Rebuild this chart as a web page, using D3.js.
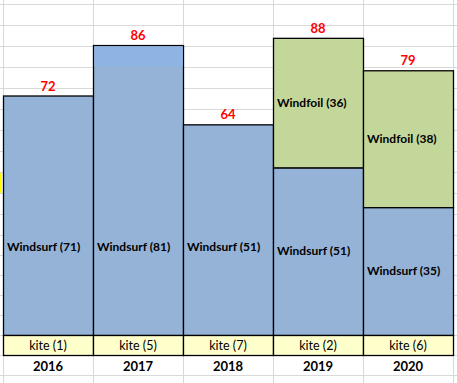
<!DOCTYPE html>
<html><head><meta charset="utf-8">
<script src="https://cdn.jsdelivr.net/npm/d3@7"></script>
<style>html,body{margin:0;padding:0;background:#fff;}svg{display:block;}</style>
</head><body>
<script>
// ---- data ----
const years = ["2016", "2017", "2018", "2019", "2020"];
const totals = [72, 86, 64, 88, 79];
const windsurf = [71, 81, 51, 51, 35];
const windfoil = [0, 0, 0, 36, 38];
const kite = [1, 5, 7, 2, 6];

const W = 457, H = 383;
const svg = d3.select("body").append("svg").attr("width", W).attr("height", H);
const font = "Lato, 'Open Sans', sans-serif";

const x = d3.scaleBand().domain(years).range([3, 453]).paddingInner(0).paddingOuter(0);
const stripTop = 335, stripBottom = 355, yearRowBottom = 376;
const y = d3.scaleLinear().domain([0, 98.5]).range([stripBottom, 0]);

// ---- spreadsheet grid background ----
const grid = svg.append("g").attr("stroke", "#d9d9d9").attr("stroke-width", 1);
const rowLines = [];
for (let v = 4; v <= 235; v += 21) rowLines.push(v);
for (let v = 255; v <= 383; v += 20) rowLines.push(v);
grid.selectAll("line.h").data(rowLines).join("line")
  .attr("x1", 0).attr("x2", W).attr("y1", d => d + 0.5).attr("y2", d => d + 0.5);
const colLines = years.map(d => x(d)).concat([x.range()[1]]);
grid.selectAll("line.v").data(colLines).join("line")
  .attr("y1", 0).attr("y2", H).attr("x1", d => d + 0.5).attr("x2", d => d + 0.5);

// selected-cell marker at the left edge
svg.append("rect").attr("x", 0).attr("y", 173).attr("width", 2).attr("height", 20).attr("fill", "#ffff00");

const rows = years.map((yr, i) => ({yr, total: totals[i], ws: windsurf[i], wf: windfoil[i], kite: kite[i]}));
const bw = x.bandwidth();

const g = svg.append("g");
rows.forEach((r, i) => {
  const x0 = x(r.yr);
  const top = y(r.total);
  const wfBottom = r.wf > 0 ? top + (y(0) - y(r.wf)) : top;
  // windfoil
  if (r.wf > 0) {
    g.append("rect").attr("x", x0 + 0.5).attr("y", top + 0.5).attr("width", bw).attr("height", wfBottom - top)
      .attr("fill", "#c4d79b").attr("stroke", "#000").attr("stroke-width", 1.3);
  }
  // windsurf
  g.append("rect").attr("x", x0 + 0.5).attr("y", wfBottom + 0.5).attr("width", bw).attr("height", stripTop - wfBottom)
    .attr("fill", "#95b3d7").attr("stroke", "#000").attr("stroke-width", 1.3);
  if (r.yr === "2017") {
    g.append("rect").attr("x", x0 + 1.2).attr("y", top + 1.2).attr("width", bw - 1.4).attr("height", 20)
      .attr("fill", "#8db4e2");
  }
  // kite strip
  g.append("rect").attr("x", x0 + 0.5).attr("y", stripTop + 0.5).attr("width", bw).attr("height", stripBottom - stripTop)
    .attr("fill", "#ffffcc").attr("stroke", "#000").attr("stroke-width", 1.3);

  // labels
  g.append("text").attr("x", x0 + bw / 2).attr("y", top - 5).attr("text-anchor", "middle")
    .attr("font-family", font).attr("font-weight", "bold").attr("font-size", 13).attr("fill", "#ff0000")
    .text(r.total);
  if (r.wf > 0) {
    g.append("text").attr("x", x0 + 4).attr("y", (top + wfBottom) / 2 + 4)
      .attr("font-family", font).attr("font-weight", "bold").attr("font-size", 12).attr("fill", "#000")
      .text(`Windfoil (${r.wf})`);
  }
  const wsY = Math.max((wfBottom + stripTop) / 2, stripTop - 88);
  g.append("text").attr("x", x0 + 4).attr("y", wsY + 4)
    .attr("font-family", font).attr("font-weight", "bold").attr("font-size", 12).attr("fill", "#000")
    .text(`Windsurf (${r.ws})`);
  g.append("text").attr("x", x0 + bw / 2).attr("y", (stripTop + stripBottom) / 2 + 5).attr("text-anchor", "middle")
    .attr("font-family", font).attr("font-size", 12.5).attr("fill", "#000")
    .text(`kite (${r.kite})`);
  g.append("text").attr("x", x0 + bw / 2).attr("y", (stripBottom + yearRowBottom) / 2 + 5).attr("text-anchor", "middle")
    .attr("font-family", font).attr("font-weight", "bold").attr("font-size", 13).attr("fill", "#000")
    .text(r.yr);
});
</script>
</body></html>
